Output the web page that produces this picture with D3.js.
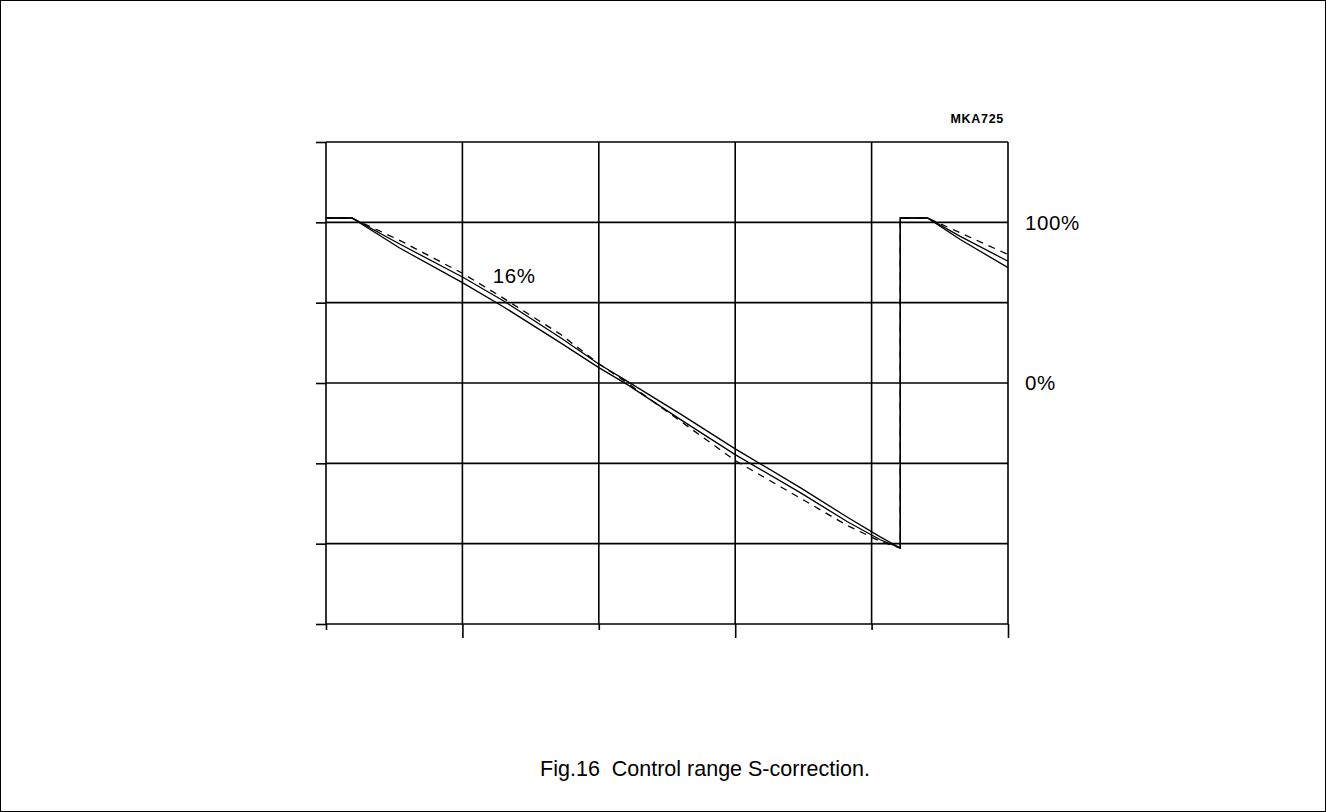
<!DOCTYPE html>
<html>
<head>
<meta charset="utf-8">
<script src="https://cdn.jsdelivr.net/npm/d3@7"></script>
<style>
  html, body { margin: 0; padding: 0; background: #ffffff; }
  svg { display: block; }
  text { font-family: "Liberation Sans", Arial, Helvetica, sans-serif; fill: #000; white-space: pre; }
</style>
</head>
<body>
<svg id="chart"></svg>
<script>
// grid divisions along the time axis and the control range (%) axis
const xDivisions = [0, 1, 2, 3, 4, 5];
const xLongTicks = [1, 3, 5];
const xShortTicks = [0, 2, 4];
const yGridValues = [-150, -100, -50, 0, 50, 100, 150];
const yLabelValues = [100, 0];
const yLabelTexts = ["100%", "0%"];

// time (divisions) shared by all three traces; 4.21 repeats for the flyback
const timeSteps = [0, 0.19, 0.54, 1.0, 1.30, 1.72, 2.0, 2.21, 2.60, 3.0, 3.48, 3.82, 4.06, 4.21, 4.21, 4.41, 4.65, 5.0];
const upperSolid = [102.7, 102.7, 86.5, 66.0, 51.2, 28.2, 11.8, 1.0, -19.4, -41.0, -65.3, -83.4, -95.6, -102.7, 102.7, 102.7, 91.3, 75.8];
const lowerSolid = [102.7, 102.7, 84.0, 62.5, 47.5, 25.0, 9.6, -1.0, -22.8, -44.6, -68.4, -86.2, -97.4, -102.7, 102.7, 102.7, 89.3, 71.8];
const dashedS16 = [102.7, 102.7, 88.8, 68.3, 52.8, 30.3, 12.0, 0, -23.8, -48.3, -71.8, -88.6, -98.4, -102.7, 102.7, 102.7, 93.5, 80.0];

const seriesLabel = "16%";
const seriesLabelAt = [1.38, 67];
const figureCode = "MKA725";
const caption = "Fig.16  Control range S-correction.";

function drawChart() {
  const width = 1326;
  const height = 812;

  const svg = d3.select("#chart")
    .attr("width", width)
    .attr("height", height);

  svg.append("rect")
    .attr("x", 0.5)
    .attr("y", 0.5)
    .attr("width", width - 1)
    .attr("height", height - 1)
    .attr("fill", "none")
    .attr("stroke", "#000")
    .attr("stroke-width", 1);

  const x = d3.scaleLinear().domain([0, 5]).range([326, 1008]);
  const y = d3.scaleLinear().domain([-150, 150]).range([624, 142]);

  const gridColor = "#000";
  const gridWidth = 1.6;

  // horizontal grid lines
  svg.append("g")
    .selectAll("line")
    .data(yGridValues)
    .join("line")
    .attr("x1", x(0))
    .attr("x2", x(5))
    .attr("y1", d => y(d))
    .attr("y2", d => y(d))
    .attr("stroke", gridColor)
    .attr("stroke-width", gridWidth);

  // vertical grid lines
  svg.append("g")
    .selectAll("line")
    .data(xDivisions)
    .join("line")
    .attr("x1", d => x(d))
    .attr("x2", d => x(d))
    .attr("y1", y(150))
    .attr("y2", y(-150))
    .attr("stroke", gridColor)
    .attr("stroke-width", gridWidth);

  // left ticks
  const yAxis = svg.append("g")
    .attr("transform", `translate(${x(0)},0)`)
    .call(d3.axisLeft(y).tickValues(yGridValues).tickSize(10).tickSizeOuter(0).tickFormat(""));

  // bottom ticks, alternating long and short
  const xAxisLong = svg.append("g")
    .attr("transform", `translate(0,${y(-150)})`)
    .call(d3.axisBottom(x).tickValues(xLongTicks).tickSize(14).tickSizeOuter(0).tickFormat(""));

  const xAxisShort = svg.append("g")
    .attr("transform", `translate(0,${y(-150)})`)
    .call(d3.axisBottom(x).tickValues(xShortTicks).tickSize(6).tickSizeOuter(0).tickFormat(""));

  [yAxis, xAxisLong, xAxisShort].forEach(g => {
    g.select(".domain").remove();
    g.selectAll(".tick line")
      .attr("stroke", gridColor)
      .attr("stroke-width", gridWidth);
  });

  // traces
  const line = d3.line()
    .x(d => x(d[0]))
    .y(d => y(d[1]));

  const traces = [
    { values: upperSolid, dash: null },
    { values: lowerSolid, dash: null },
    { values: dashedS16, dash: "7,6" }
  ];

  svg.append("g")
    .selectAll("path")
    .data(traces)
    .join("path")
    .attr("d", d => line(timeSteps.map((t, i) => [t, d.values[i]])))
    .attr("fill", "none")
    .attr("stroke", "#000")
    .attr("stroke-width", 1.3)
    .attr("stroke-linejoin", "miter")
    .attr("stroke-dasharray", d => d.dash);

  // labels
  svg.append("g")
    .selectAll("text")
    .data(yLabelValues)
    .join("text")
    .attr("x", x(5) + 17)
    .attr("y", d => y(d))
    .attr("dy", "0.35em")
    .attr("font-size", 20.5)
    .attr("letter-spacing", 0.6)
    .text((d, i) => yLabelTexts[i]);

  svg.append("text")
    .attr("x", x(seriesLabelAt[0]))
    .attr("y", y(seriesLabelAt[1]))
    .attr("dy", "0.35em")
    .attr("text-anchor", "middle")
    .attr("font-size", 20.5)
    .attr("letter-spacing", 0.6)
    .text(seriesLabel);

  svg.append("text")
    .attr("x", x(5) - 4)
    .attr("y", 123)
    .attr("text-anchor", "end")
    .attr("font-size", 12.5)
    .attr("font-weight", "bold")
    .attr("letter-spacing", 0.7)
    .text(figureCode);

  svg.append("text")
    .attr("x", 705)
    .attr("y", 776)
    .attr("text-anchor", "middle")
    .attr("font-size", 21.5)
    .text(caption);
}

drawChart();
</script>
</body>
</html>
